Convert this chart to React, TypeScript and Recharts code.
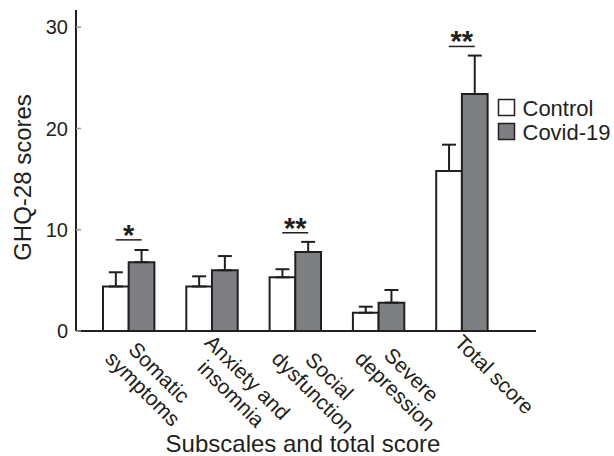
import React from 'react';
import {
  ComposedChart, Bar, ErrorBar, Scatter, XAxis, YAxis, Legend, Label,
} from 'recharts';

const categories = [
  'Somatic\nsymptoms',
  'Anxiety and\ninsomnia',
  'Social\ndysfunction',
  'Severe\ndepression',
  'Total score',
];
const controlMean = [4.4, 4.4, 5.3, 1.8, 15.8];
const controlSd = [1.4, 1.0, 0.8, 0.6, 2.6];
const covidMean = [6.8, 6.0, 7.8, 2.8, 23.4];
const covidSd = [1.2, 1.4, 1.0, 1.25, 3.8];
const sigMarks = ['*', '', '**', '', '**'];
const sigLevel = [9.0, 0, 9.7, 0, 28.1];
const yTicks = [0, 10, 20, 30];

const INK = '#231f20';
const GREY = '#7e7f82';
const FONT = '"Liberation Sans", Arial, Helvetica, sans-serif';
const TICK_FS = 21;

const data = categories.map((name, i) => ({
  name,
  control: controlMean[i],
  controlErr: [0, controlSd[i]],
  covid: covidMean[i],
  covidErr: [0, covidSd[i]],
  sig: sigMarks[i],
  sigY: sigLevel[i],
}));

let ctx: CanvasRenderingContext2D | null = null;
const textWidth = (s: string) => {
  if (!ctx) {
    ctx = document.createElement('canvas').getContext('2d');
    if (ctx) ctx.font = `${TICK_FS}px ${FONT}`;
  }
  return ctx ? ctx.measureText(s).width : s.length * 10;
};

// two-line rotated category labels, lines centred on each other
const CategoryTick = (props: any) => {
  const { x, y, payload } = props;
  const lines = String(payload.value).split('\n');
  const wmax = Math.max(...lines.map(textWidth));
  const cx = 3 + wmax / 2;
  return (
    <g transform={`translate(${x},${y}) rotate(45)`}>
      <text textAnchor="middle" fontSize={TICK_FS} fontFamily={FONT} fill={INK}>
        {lines.map((l, i) => (
          <tspan key={i} x={cx} y={15 + i * 23}>{l}</tspan>
        ))}
      </text>
    </g>
  );
};

const SigMark = (props: any) => {
  const { cx, cy, payload } = props;
  if (!payload || !payload.sig) return <g />;
  return (
    <g>
      <line x1={cx - 13} x2={cx + 13} y1={cy} y2={cy} stroke={INK} strokeWidth={1.5} />
      <text x={cx} y={cy + 5} textAnchor="middle" fontSize={29} fontWeight={700} fontFamily={FONT} fill={INK}>
        {payload.sig}
      </text>
    </g>
  );
};

const renderLegend = (props: any) => {
  const items = (props.payload || []).filter((p: any) => p.type !== 'none');
  return (
    <svg width={124} height={60} style={{ display: 'block' }}>
      {items.map((p: any, i: number) => (
        <g key={p.value}>
          <rect x={8.5} y={9.5 + i * 24} width={16} height={16} fill={p.color} stroke={INK} strokeWidth={1.5} />
          <text x={32.5} y={26 + i * 24} fontSize={22} fontFamily={FONT} fill={INK}>{p.value}</text>
        </g>
      ))}
    </svg>
  );
};

export default function App() {
  return (
    <div style={{ position: 'absolute', left: 0, top: 0, background: '#fff' }}>
      <ComposedChart
        width={614}
        height={456}
        data={data}
        margin={{ top: 10, right: 78, bottom: 0, left: 0 }}
        barGap={0}
      >
        <XAxis
          dataKey="name"
          type="category"
          interval={0}
          height={125}
          padding={{ left: 11, right: 32.5 }}
          tickLine={false}
          tickSize={0}
          tickMargin={0}
          axisLine={{ stroke: INK, strokeWidth: 2 }}
          tick={<CategoryTick />}
        >
          <Label
            content={({ viewBox }: any) => (
              <text
                x={viewBox.x + viewBox.width / 2 - 3}
                y={viewBox.y + viewBox.height - 4}
                textAnchor="middle"
                fontSize={24}
                fontFamily={FONT}
                fill={INK}
              >
                Subscales and total score
              </text>
            )}
          />
        </XAxis>
        <YAxis
          width={76}
          domain={[0, 31.7]}
          ticks={yTicks}
          allowDataOverflow
          tickSize={-5}
          tickMargin={13}
          tickLine={{ stroke: '#9a9a9a', strokeWidth: 1.5 }}
          axisLine={{ stroke: INK, strokeWidth: 2 }}
          tick={{ fontSize: 20, fontFamily: FONT, fill: INK }}
        >
          <Label
            content={({ viewBox }: any) => {
              const lx = 31;
              const ly = viewBox.y + viewBox.height / 2 + 7;
              return (
                <text
                  x={lx}
                  y={ly}
                  transform={`rotate(-90 ${lx} ${ly})`}
                  textAnchor="middle"
                  fontSize={24}
                  fontFamily={FONT}
                  fill={INK}
                >
                  GHQ-28 scores
                </text>
              );
            }}
          />
        </YAxis>
        <Legend
          layout="horizontal"
          verticalAlign="middle"
          align="center"
          content={renderLegend}
          wrapperStyle={{ position: 'absolute', left: 490, top: 90, width: 124, height: 60 }}
        />
        <Bar dataKey="control" name="Control" fill="#ffffff" stroke={INK} strokeWidth={2} barSize={25.7} isAnimationActive={false}>
          <ErrorBar dataKey="controlErr" width={7} stroke={INK} strokeWidth={2} direction="y" />
        </Bar>
        <Bar dataKey="covid" name="Covid-19" fill={GREY} stroke={INK} strokeWidth={2} barSize={25.7} isAnimationActive={false}>
          <ErrorBar dataKey="covidErr" width={7} stroke={INK} strokeWidth={2} direction="y" />
        </Bar>
        <Scatter dataKey="sigY" legendType="none" shape={<SigMark />} isAnimationActive={false} />
      </ComposedChart>
    </div>
  );
}
